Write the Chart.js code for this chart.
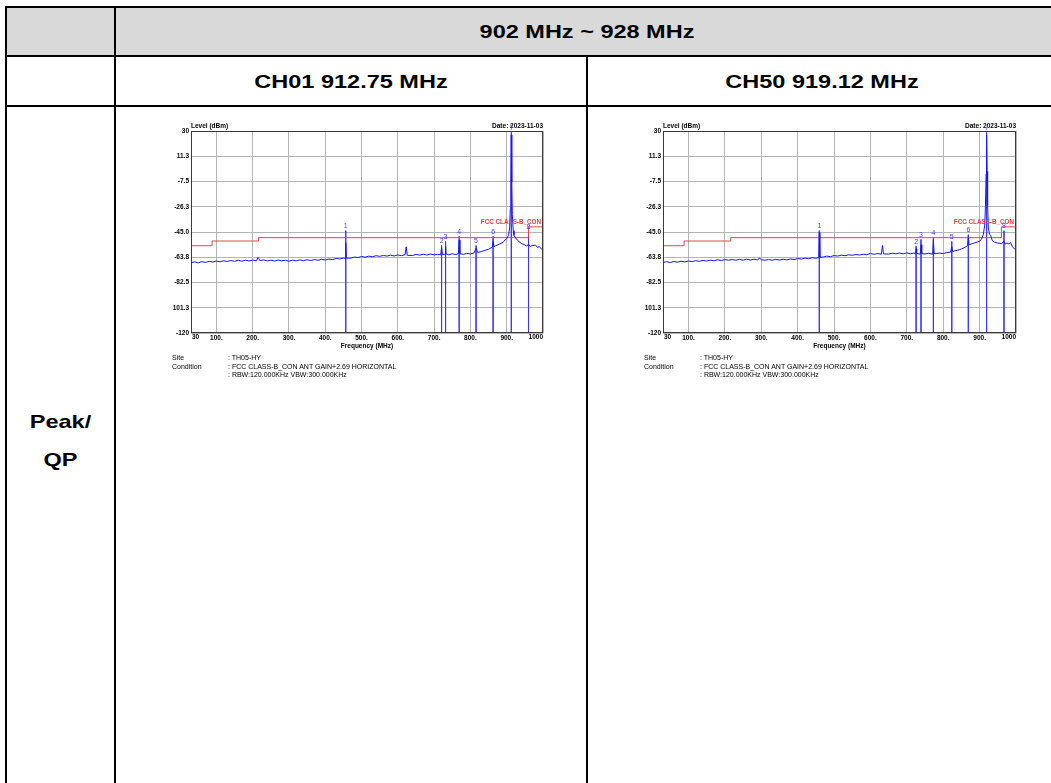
<!DOCTYPE html>
<html>
<head>
<meta charset="utf-8">
<script src="https://cdn.jsdelivr.net/npm/chart.js@4.4.0/dist/chart.umd.min.js"></script>
<style>
  body { margin: 0; width: 1051px; height: 783px; overflow: hidden; position: relative; background: #fff;
         font-family: "Liberation Sans", Arial, sans-serif; }
  .ln { position: absolute; background: #000; }
  .fill { position: absolute; background: #d9d9d9; }
  .cap { position: absolute; font-weight: bold; font-size: 18.5px; line-height: 20px; text-align: center;
         white-space: nowrap; transform: scaleX(1.27); color: #000; }
  .plot { position: absolute; width: 400px; height: 245px; }
  .info { position: absolute; font-size: 7px; line-height: 8px; color: #000; white-space: nowrap; }
</style>
</head>
<body>

<!-- table frame -->
<div class="fill" style="left:7px;top:8px;width:1044px;height:47px"></div>
<div class="ln" style="left:5px;top:6px;width:1046px;height:2px"></div>
<div class="ln" style="left:5px;top:55px;width:1046px;height:2px"></div>
<div class="ln" style="left:5px;top:105px;width:1046px;height:2px"></div>
<div class="ln" style="left:5px;top:6px;width:2px;height:777px"></div>
<div class="ln" style="left:114px;top:6px;width:2px;height:777px"></div>
<div class="ln" style="left:586px;top:57px;width:2px;height:726px"></div>

<div class="cap" style="left:116px;top:22px;width:942px">902 MHz ~ 928 MHz</div>
<div class="cap" style="left:116px;top:72px;width:470px">CH01 912.75 MHz</div>
<div class="cap" style="left:588px;top:72px;width:468px">CH50 919.12 MHz</div>
<div class="cap" style="left:7px;top:412px;width:107px">Peak/</div>
<div class="cap" style="left:7px;top:450px;width:107px">QP</div>

<canvas id="ch01" class="plot" width="400" height="245" style="left:160px;top:112px"></canvas>
<canvas id="ch50" class="plot" width="400" height="245" style="left:632px;top:112px"></canvas>

<div class="info" style="left:172px;top:354px">Site</div>
<div class="info" style="left:172px;top:362.5px">Condition</div>
<div class="info" style="left:228px;top:354px">: TH05-HY</div>
<div class="info" style="left:228px;top:362.5px">: FCC CLASS-B_CON ANT GAIN+2.69 HORIZONTAL</div>
<div class="info" style="left:228px;top:371px">: RBW:120.000KHz VBW:300.000KHz</div>

<div class="info" style="left:644px;top:354px">Site</div>
<div class="info" style="left:644px;top:362.5px">Condition</div>
<div class="info" style="left:700px;top:354px">: TH05-HY</div>
<div class="info" style="left:700px;top:362.5px">: FCC CLASS-B_CON ANT GAIN+2.69 HORIZONTAL</div>
<div class="info" style="left:700px;top:371px">: RBW:120.000KHz VBW:300.000KHz</div>

<script>
// axis ticks as printed by the receiver software
const Y_TICKS  = [30, 11.25, -7.5, -26.25, -45, -63.75, -82.5, -101.25, -120];
const Y_LABELS = ['30', '11.3', '-7.5', '-26.3', '-45.0', '-63.8', '-82.5', '101.3', '-120'];
const X_TICKS  = [30, 100, 200, 300, 400, 500, 600, 700, 800, 900, 1000];
const X_LABELS = ['30', '100.', '200.', '300.', '400.', '500.', '600.', '700.', '800.', '900.', '1000'];

// FCC class B limit (stepped)
const LIMIT_FREQ  = [30, 88, 216, 960, 1000];
const LIMIT_LEVEL = [-55.2, -51.7, -49.2, -41.2, -41.2];

// CH01 912.75 MHz trace
const CH01_FREQ = [
  30, 40, 50, 60, 70, 80, 90, 100, 110, 120,
  130, 140, 150, 160, 170, 180, 190, 200, 210, 215,
  220, 230, 240, 250, 260, 270, 280, 290, 300, 310,
  320, 330, 340, 350, 360, 370, 380, 390, 400, 410,
  420, 430, 440, 450, 455, 456.4, 458, 470, 480, 490,
  500, 510, 520, 530, 540, 550, 560, 570, 580, 590,
  600, 610, 620, 623, 626, 640, 650, 660, 670, 680,
  690, 700, 710, 718, 720.5, 723, 730, 731.5, 733, 740,
  750, 760, 767, 769, 771, 780, 790, 800, 810, 815.5,
  820, 830, 840, 850, 860, 862.5, 865, 870, 880, 890,
  895, 900, 905, 908, 910, 911.5, 912.75, 914, 915.5, 918,
  920, 925, 930, 940, 950, 955, 960, 965, 970, 980,
  985, 990, 995, 1000
];
const CH01_LEVEL = [
  -67.8, -67.2, -67.9, -67.0, -67.6, -66.8, -67.3, -66.6, -67.1, -66.4,
  -66.9, -66.2, -66.8, -66.0, -66.7, -65.9, -66.5, -65.8, -66.4, -63.8,
  -66.3, -65.7, -66.5, -65.9, -66.6, -65.8, -66.4, -66.0, -66.7, -65.9,
  -66.4, -65.7, -66.3, -65.6, -66.2, -65.5, -66.0, -65.3, -65.8, -65.1,
  -65.5, -64.7, -65.0, -64.3, -64.6, -53.0, -64.4, -64.5, -63.6, -64.0,
  -63.2, -63.7, -62.9, -63.4, -62.6, -63.1, -62.4, -62.9, -62.2, -62.8,
  -62.0, -62.6, -61.8, -56.0, -62.3, -62.5, -61.6, -62.2, -61.5, -62.1,
  -61.4, -62.0, -61.6, -62.0, -56.5, -61.8, -61.5, -55.5, -61.3, -61.9,
  -61.2, -61.8, -61.0, -51.0, -61.1, -61.6, -60.9, -61.3, -60.5, -57.0,
  -60.2, -59.5, -58.6, -57.8, -56.3, -52.0, -55.8, -55.2, -54.0, -52.6,
  -51.0, -50.0, -47.5, -42.0, -28.0, -5.0, 27.0, -8.0, -32.0, -44.0,
  -47.5, -49.5, -51.2, -53.5, -54.6, -55.5, -54.0, -55.8, -55.0, -54.8,
  -56.5, -55.8, -57.5, -58.5
];
const CH01_MARK_FREQ  = [456.38, 720.5, 731.5, 769, 815.5, 862.5, 912.75, 960];
const CH01_MARK_LEVEL = [-44, -55, -52, -48.2, -55, -48.2, 29, -45];

// CH50 919.12 MHz trace
const CH50_FREQ = [
  30, 40, 50, 60, 70, 80, 90, 100, 110, 120,
  130, 140, 150, 160, 170, 180, 190, 200, 210, 220,
  230, 240, 250, 260, 270, 280, 290, 295, 300, 310,
  320, 330, 340, 350, 360, 370, 380, 390, 400, 410,
  420, 430, 440, 450, 458, 459.56, 461, 470, 480, 490,
  500, 510, 520, 530, 540, 550, 560, 570, 580, 590,
  600, 610, 620, 630, 633, 636, 650, 660, 670, 680,
  690, 700, 710, 720, 724, 725.5, 727, 737, 739, 741,
  750, 760, 771, 773, 775, 790, 800, 810, 820, 823.5,
  826, 830, 840, 850, 860, 867, 869, 871, 880, 890,
  900, 905, 910, 914, 916, 917.8, 919.12, 920.5, 922, 924,
  927, 930, 935, 940, 950, 960, 967, 970, 975, 980,
  985, 990, 995, 1000
];
const CH50_LEVEL = [
  -67.6, -67.0, -67.7, -66.9, -67.4, -66.7, -67.2, -66.5, -67.0, -66.3,
  -66.8, -66.1, -66.6, -65.9, -66.4, -65.6, -66.2, -65.5, -66.0, -65.4,
  -66.0, -65.3, -65.9, -65.2, -65.8, -65.2, -65.8, -64.3, -65.6, -66.0,
  -65.4, -66.0, -65.3, -65.9, -65.2, -65.7, -65.0, -65.5, -64.7, -65.1,
  -64.4, -64.8, -64.1, -64.5, -64.0, -45.5, -63.8, -63.6, -62.9, -63.3,
  -62.5, -62.9, -62.2, -62.6, -61.9, -62.3, -61.7, -62.1, -61.5, -61.9,
  -60.9, -61.6, -61.0, -61.5, -55.0, -61.3, -61.4, -60.7, -61.3, -60.6,
  -61.2, -60.5, -61.1, -60.6, -61.2, -57.5, -61.0, -61.4, -54.5, -61.0,
  -61.3, -60.8, -61.5, -51.0, -61.0, -60.7, -61.0, -60.3, -60.0, -56.0,
  -59.5, -59.2, -58.5, -57.6, -56.4, -55.0, -48.5, -54.5, -53.6, -52.8,
  -51.8, -50.5, -47.0, -40.0, -26.0, -2.0, 27.0, 0.0, -25.0, -42.0,
  -46.5, -47.5, -51.5, -52.5, -53.2, -53.6, -52.0, -54.0, -53.2, -53.8,
  -52.8, -56.0, -57.3, -58.2
];
const CH50_MARK_FREQ  = [459.56, 725.5, 739, 773, 823.5, 869, 919.12, 967];
const CH50_MARK_LEVEL = [-44, -55.5, -50.5, -49, -52, -47, 29, -44];

const FONT = '"Liberation Sans", Arial, sans-serif';

// pairs two arrays into {x, y} points
function toPoints(xs, ys) {
  return xs.map((x, i) => ({ x: x, y: ys[i] }));
}

// vertical marker lines from the marker level down to the floor, broken by gaps
function markerLines(freqs, levels) {
  const pts = [];
  freqs.forEach((f, i) => {
    pts.push({ x: f, y: levels[i] }, { x: f, y: -120 }, { x: f, y: null });
  });
  return pts;
}

// frame, captions, end tick labels and marker numbers
function textPlugin(mkFreq, mkLevel) {
  return {
    id: 'specText',
    afterDraw(chart) {
      const { ctx, chartArea: a, scales: { x, y } } = chart;
      ctx.save();
      ctx.strokeStyle = '#3a3a3a';
      ctx.lineWidth = 1;
      ctx.strokeRect(a.left + 0.5, a.top + 0.5, a.right - a.left - 1, a.bottom - a.top - 1);

      ctx.fillStyle = '#000';
      ctx.font = 'bold 6.5px ' + FONT;
      ctx.textBaseline = 'middle';
      ctx.textAlign = 'left';
      ctx.fillText('Level (dBm)', a.left, a.top - 5);
      ctx.fillText(X_LABELS[0], a.left + 1, a.bottom + 4);
      ctx.textAlign = 'right';
      ctx.fillText('Date: 2023-11-03', a.right, a.top - 5);
      ctx.fillText(X_LABELS[X_LABELS.length - 1], a.right, a.bottom + 4);
      ctx.textAlign = 'center';
      ctx.fillText('Frequency (MHz)', (a.left + a.right) / 2, a.bottom + 13);

      // limit line caption
      ctx.fillStyle = '#e83a3a';
      ctx.font = 'bold 6.3px ' + FONT;
      ctx.textAlign = 'right';
      ctx.textBaseline = 'bottom';
      ctx.fillText('FCC CLASS-B_CON', a.right - 2, y.getPixelForValue(LIMIT_LEVEL[LIMIT_LEVEL.length - 1]) - 1.5);

      // marker numbers
      ctx.fillStyle = '#3c3cff';
      ctx.font = '7px ' + FONT;
      ctx.textAlign = 'center';
      mkFreq.forEach((f, i) => {
        ctx.fillText(String(i + 1), x.getPixelForValue(f), y.getPixelForValue(mkLevel[i]) - 1);
      });
      ctx.restore();
    }
  };
}

function makeChart(id, freqs, levels, mkFreq, mkLevel, padRight) {
  return new Chart(document.getElementById(id), {
    type: 'scatter',
    data: {
      datasets: [
        {
          data: toPoints(freqs, levels),
          showLine: true, borderColor: '#1414ff', borderWidth: 1,
          pointRadius: 0, order: 1
        },
        {
          data: toPoints(LIMIT_FREQ, LIMIT_LEVEL),
          showLine: true, stepped: 'before', borderColor: '#e84646', borderWidth: 1,
          pointRadius: 0, order: 2
        },
        {
          data: markerLines(mkFreq, mkLevel),
          showLine: true, spanGaps: false, borderColor: 'rgba(50,50,255,0.8)', borderWidth: 1,
          pointRadius: 0, order: 3
        }
      ]
    },
    options: {
      responsive: false,
      animation: false,
      events: [],
      layout: { padding: { left: 0, top: 19, right: padRight, bottom: 0 } },
      plugins: { legend: { display: false }, tooltip: { enabled: false } },
      scales: {
        x: {
          type: 'linear', min: 30, max: 1000,
          afterBuildTicks: s => { s.ticks = X_TICKS.map(v => ({ value: v })); },
          afterFit: s => { s.height = 24; },
          ticks: {
            autoSkip: false, maxRotation: 0, padding: 1, color: '#000',
            font: { family: FONT, size: 6.5, weight: 'bold' },
            callback: (v, i) => (i === 0 || i === X_LABELS.length - 1) ? '' : X_LABELS[i]
          },
          grid: { color: '#b4b4b4', lineWidth: 1, drawTicks: false },
          border: { display: false }
        },
        y: {
          type: 'linear', min: -120, max: 30,
          afterBuildTicks: s => { s.ticks = Y_TICKS.map(v => ({ value: v })); },
          afterFit: s => { s.width = 31; },
          ticks: {
            padding: 2, color: '#000',
            font: { family: FONT, size: 6.5, weight: 'bold' },
            callback: (v, i) => Y_LABELS[i]
          },
          grid: { color: '#b4b4b4', lineWidth: 1, drawTicks: false },
          border: { display: false }
        }
      }
    },
    plugins: [textPlugin(mkFreq, mkLevel)]
  });
}

makeChart('ch01', CH01_FREQ, CH01_LEVEL, CH01_MARK_FREQ, CH01_MARK_LEVEL, 17);
makeChart('ch50', CH50_FREQ, CH50_LEVEL, CH50_MARK_FREQ, CH50_MARK_LEVEL, 16);
</script>
</body>
</html>
